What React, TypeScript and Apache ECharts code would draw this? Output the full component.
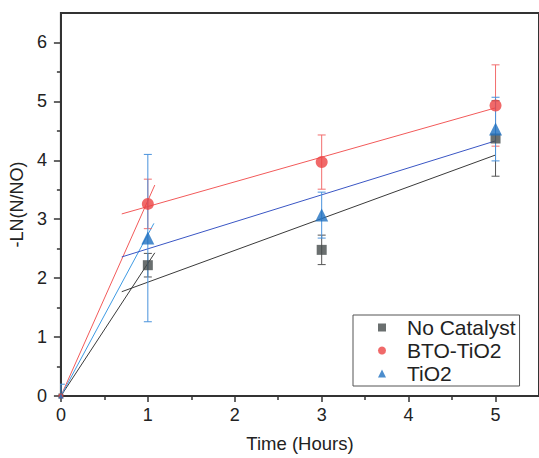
import { useEffect, useRef } from 'react';
import * as echarts from 'echarts';

// ---- data ----
const timeHours = [0, 1, 3, 5];
const noCatalyst = [0, 2.22, 2.48, 4.37];
const btoTiO2 = [0, 3.26, 3.97, 4.93];
const tiO2 = [0, 2.68, 3.07, 4.53];
const noCatalystErr = [0, 0.2, 0.25, 0.64];
const btoTiO2Err = [0, 0.42, 0.46, 0.69];
const tiO2Err = [0.2, 1.42, 0.39, 0.54];

// fitted lines [x, y]
const noCatalystFitEarly = [[0, 0], [1.08, 2.43]];
const noCatalystFitLate = [[0.7, 1.77], [5, 4.09]];
const btoTiO2FitEarly = [[0, 0], [1.08, 3.58]];
const btoTiO2FitLate = [[0.7, 3.09], [5, 4.89]];
const tiO2FitEarly = [[0, 0], [1.07, 2.93]];
const tiO2FitLate = [[0.7, 2.36], [5, 4.33]];

const xTicks = [0, 1, 2, 3, 4, 5];
const xMinorTicks = [0.5, 1.5, 2.5, 3.5, 4.5];
const yTicks = [0, 1, 2, 3, 4, 5, 6];
const yMinorTicks = [0.5, 1.5, 2.5, 3.5, 4.5, 5.5];

const seriesNames = ['No Catalyst', 'BTO-TiO2', 'TiO2'];

const FONT = "'Liberation Sans', Arial, sans-serif";
const AXIS = '#333';

function errorBarSeries(name: string, ys: number[], errs: number[], color: string) {
  return {
    type: 'custom',
    name,
    clip: true,
    z: 3,
    silent: true,
    data: timeHours.map((x, i) => [x, ys[i], errs[i]]),
    encode: { x: 0, y: 1 },
    renderItem: (_params: any, api: any) => {
      const x = api.value(0);
      const y = api.value(1);
      const e = api.value(2);
      if (!e) return null;
      const hi = api.coord([x, y + e]);
      const lo = api.coord([x, y - e]);
      const hw = 4;
      const style = { stroke: color, lineWidth: 1 };
      return {
        type: 'group',
        children: [
          { type: 'line', shape: { x1: hi[0], y1: hi[1], x2: lo[0], y2: lo[1] }, style },
          { type: 'line', shape: { x1: hi[0] - hw, y1: hi[1], x2: hi[0] + hw, y2: hi[1] }, style },
          { type: 'line', shape: { x1: lo[0] - hw, y1: lo[1], x2: lo[0] + hw, y2: lo[1] }, style },
        ],
      };
    },
  };
}

function fitSeries(name: string, data: number[][], color: string) {
  return {
    type: 'line',
    name,
    data,
    symbol: 'none',
    silent: true,
    z: 2,
    lineStyle: { color, width: 1 },
  };
}

function scatterSeries(name: string, ys: number[], symbol: string, size: number, color: string) {
  return {
    type: 'scatter',
    name,
    symbol,
    symbolSize: (v: number[]) => (v[0] === 0 ? 5 : size),
    data: timeHours.map((x, i) => [x, ys[i]]),
    itemStyle: { color },
    z: 5,
  };
}

export default function App() {
  const ref = useRef<HTMLDivElement>(null);
  useEffect(() => {
    const chart = echarts.init(ref.current!, null, { renderer: 'svg' });
    const labelStyle = { color: '#222', fontSize: 18, fontFamily: FONT };
    chart.setOption({
      animation: false,
      backgroundColor: '#fff',
      grid: {
        left: 59,
        top: 13,
        width: 482,
        height: 385,
        show: true,
        borderColor: AXIS,
        borderWidth: 2,
        backgroundColor: 'transparent',
      },
      legend: {
        data: seriesNames,
        orient: 'vertical',
        left: 353,
        top: 315,
        borderColor: '#555',
        borderWidth: 1,
        padding: [2, 4, 2, 25],
        itemGap: 2,
        itemWidth: 8,
        itemHeight: 8,
        selectedMode: false,
        textStyle: { fontSize: 21, fontFamily: FONT, color: '#222', padding: [0, 0, 0, 16] },
      },
      xAxis: [
        {
          type: 'value',
          min: 0,
          max: 5.5,
          name: 'Time (Hours)',
          nameLocation: 'middle',
          nameGap: 38,
          nameTextStyle: { ...labelStyle, fontSize: 18.5 },
          splitLine: { show: false },
          axisLine: { show: true, onZero: false, lineStyle: { color: AXIS, width: 2 } },
          axisTick: { show: true, length: 6, customValues: xTicks, lineStyle: { color: AXIS, width: 1.5 } },
          axisLabel: { ...labelStyle, margin: 10, customValues: xTicks },
        },
        {
          type: 'value',
          min: 0,
          max: 5.5,
          position: 'bottom',
          splitLine: { show: false },
          axisLine: { show: false },
          axisLabel: { show: false },
          axisTick: { show: true, length: 4, customValues: xMinorTicks, lineStyle: { color: AXIS, width: 1.5 } },
        },
      ],
      yAxis: [
        {
          type: 'value',
          min: 0,
          max: 6.5,
          name: '-LN(N/NO)',
          nameLocation: 'middle',
          nameGap: 33,
          nameTextStyle: { ...labelStyle, fontSize: 18 },
          splitLine: { show: false },
          axisLine: { show: true, onZero: false, lineStyle: { color: AXIS, width: 2 } },
          axisTick: { show: true, length: 7, customValues: yTicks, lineStyle: { color: AXIS, width: 1.5 } },
          axisLabel: { ...labelStyle, margin: 14, customValues: yTicks },
        },
        {
          type: 'value',
          min: 0,
          max: 6.5,
          position: 'left',
          splitLine: { show: false },
          axisLine: { show: false },
          axisLabel: { show: false },
          axisTick: { show: true, length: 4, customValues: yMinorTicks, lineStyle: { color: AXIS, width: 1.5 } },
        },
      ],
      series: [
        fitSeries('fit-nc-early', noCatalystFitEarly, '#3a3a3a'),
        fitSeries('fit-nc-late', noCatalystFitLate, '#3a3a3a'),
        fitSeries('fit-bto-early', btoTiO2FitEarly, '#f25a5a'),
        fitSeries('fit-bto-late', btoTiO2FitLate, '#f25a5a'),
        fitSeries('fit-ti-early', tiO2FitEarly, '#3f9be3'),
        fitSeries('fit-ti-late', tiO2FitLate, '#3a56c4'),
        errorBarSeries('err-nc', noCatalyst, noCatalystErr, '#555'),
        errorBarSeries('err-bto', btoTiO2, btoTiO2Err, '#f26e6e'),
        errorBarSeries('err-ti', tiO2, tiO2Err, '#4a93dc'),
        scatterSeries('No Catalyst', noCatalyst, 'rect', 10, '#454b4b'),
        scatterSeries('BTO-TiO2', btoTiO2, 'circle', 12, '#ec4444'),
        scatterSeries('TiO2', tiO2, 'triangle', 13, '#1f70c1'),
      ],
    });
    return () => chart.dispose();
  }, []);
  return <div ref={ref} style={{ position: 'fixed', left: 0, top: 0, width: 539, height: 458 }} />;
}
